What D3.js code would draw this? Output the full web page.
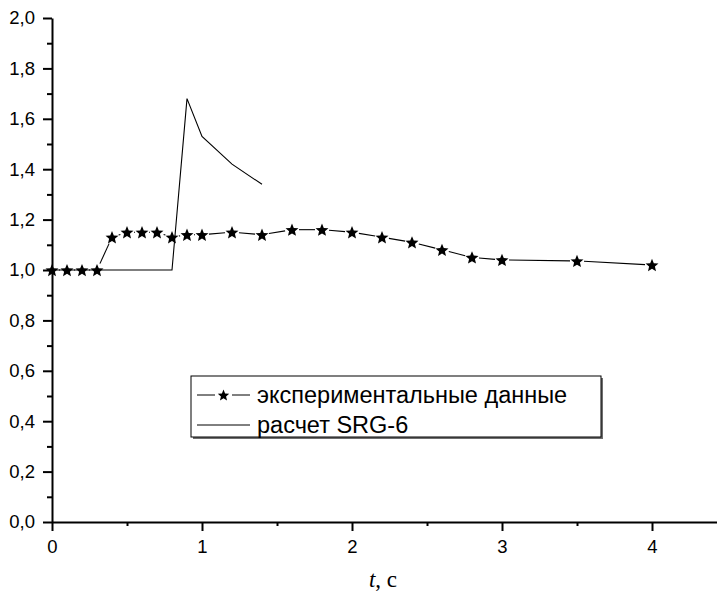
<!DOCTYPE html>
<html>
<head>
<meta charset="utf-8">
<script src="https://cdn.jsdelivr.net/npm/d3@7"></script>
<style>
  html, body { margin: 0; padding: 0; background: #fff; }
  svg { display: block; }
</style>
</head>
<body>
<svg id="chart" width="717" height="592"></svg>
<script>
// ---- data ----
const expT = [0, 0.1, 0.2, 0.3, 0.4, 0.5, 0.6, 0.7, 0.8, 0.9, 1.0, 1.2, 1.4, 1.6, 1.8, 2.0, 2.2, 2.4, 2.6, 2.8, 3.0, 3.5, 4.0];
const expV = [1.0, 1.0, 1.0, 1.0, 1.13, 1.15, 1.15, 1.15, 1.13, 1.14, 1.14, 1.15, 1.14, 1.16, 1.16, 1.15, 1.13, 1.11, 1.08, 1.05, 1.04, 1.036, 1.02];
const calcT = [0, 0.8, 0.9, 1.0, 1.2, 1.4];
const calcV = [1.0, 1.0, 1.68, 1.53, 1.42, 1.34];
const xTicks = [0, 1, 2, 3, 4];
const xMinorTicks = [0.5, 1.5, 2.5, 3.5];
const yTicks = [0, 0.2, 0.4, 0.6, 0.8, 1.0, 1.2, 1.4, 1.6, 1.8, 2.0];
const yMinorTicks = [0.1, 0.3, 0.5, 0.7, 0.9, 1.1, 1.3, 1.5, 1.7, 1.9];
const legendLabels = ["экспериментальные данные", "расчет SRG-6"];
const xLabelItalic = "t";
const xLabelRest = ", с";

// ---- layout ----
const svg = d3.select("#chart");
const x = d3.scaleLinear().domain([0, 4.45]).range([52, 719.5]);
const y = d3.scaleLinear().domain([0, 2]).range([522, 18]);
const fmt = d => d3.format(".1f")(d).replace(".", ",");
const labelFont = "'Liberation Sans', Arial, sans-serif";

// star path generator (Origin-like, slightly fatter than d3's)
function starPath(r, kr) {
  const p = [];
  for (let i = 0; i < 10; i++) {
    const a = -Math.PI / 2 + i * Math.PI / 5;
    const rr = i % 2 ? r * kr : r;
    p.push([rr * Math.cos(a), rr * Math.sin(a) + r * 0.1]);
  }
  return "M" + p.map(q => q[0].toFixed(2) + "," + q[1].toFixed(2)).join("L") + "Z";
}

// ---- axes ----
const gx = svg.append("g").attr("transform", `translate(0,${y(0)})`)
  .call(d3.axisBottom(x).tickValues(xTicks).tickFormat(d3.format("d")).tickSize(9).tickPadding(9).tickSizeOuter(0));
const gxm = svg.append("g").attr("transform", `translate(0,${y(0)})`)
  .call(d3.axisBottom(x).tickValues(xMinorTicks).tickFormat("").tickSize(4).tickSizeOuter(0));
const gy = svg.append("g").attr("transform", `translate(${x(0)},0)`)
  .call(d3.axisLeft(y).tickValues(yTicks).tickFormat(fmt).tickSize(9).tickPadding(8).tickSizeOuter(0));
const gym = svg.append("g").attr("transform", `translate(${x(0)},0)`)
  .call(d3.axisLeft(y).tickValues(yMinorTicks).tickFormat("").tickSize(5).tickSizeOuter(0));

[gx, gxm, gy, gym].forEach(g => {
  g.selectAll(".domain").attr("stroke", "#000").attr("stroke-width", 2);
  g.selectAll(".tick line").attr("stroke", "#000").attr("stroke-width", 2);
  g.selectAll("text").attr("fill", "#000").attr("font-family", labelFont).attr("font-size", 18.5);
});
gxm.select(".domain").remove();
gym.select(".domain").remove();

// x label
const xl = svg.append("text")
  .attr("x", 383).attr("y", 587)
  .attr("text-anchor", "middle")
  .attr("font-family", "'Liberation Serif', 'Times New Roman', serif")
  .attr("font-size", 23).attr("fill", "#000");
xl.append("tspan").attr("font-style", "italic").text(xLabelItalic);
xl.append("tspan").text(xLabelRest);

// ---- calc line ----
svg.append("path")
  .datum(calcT.map((t, i) => [t, calcV[i]]))
  .attr("fill", "none").attr("stroke", "#000").attr("stroke-width", 1.1)
  .attr("d", d3.line().x(d => x(d[0])).y(d => y(d[1])));

// ---- experimental line with gaps around markers ----
const pts = expT.map((t, i) => [x(t), y(expV[i])]);
const gap = 7;
const segs = [];
for (let i = 0; i < pts.length - 1; i++) {
  const [x1, y1] = pts[i], [x2, y2] = pts[i + 1];
  const dx = x2 - x1, dy = y2 - y1, L = Math.hypot(dx, dy);
  if (L > 2 * gap) {
    const ux = dx / L, uy = dy / L;
    segs.push([[x1 + ux * gap, y1 + uy * gap], [x2 - ux * gap, y2 - uy * gap]]);
  }
}
svg.append("g").selectAll("line").data(segs).join("line")
  .attr("x1", d => d[0][0]).attr("y1", d => d[0][1])
  .attr("x2", d => d[1][0]).attr("y2", d => d[1][1])
  .attr("stroke", "#000").attr("stroke-width", 1.1);

const bigStar = starPath(6.8, 0.45);
svg.append("g").selectAll("path").data(pts).join("path")
  .attr("transform", d => `translate(${d[0]},${d[1]})`)
  .attr("d", bigStar).attr("fill", "#000");

// ---- legend ----
const lg = svg.append("g");
const lx0 = 191, ly0 = 376, lw = 410, lh = 61;
lg.append("rect").attr("x", lx0 + 2).attr("y", ly0 + 2).attr("width", lw).attr("height", lh).attr("fill", "#6e6e6e");
lg.append("rect").attr("x", lx0).attr("y", ly0).attr("width", lw).attr("height", lh)
  .attr("fill", "#fff").attr("stroke", "#000").attr("stroke-width", 1);

const rowY = [395, 425];
// row 1: line with star
lg.append("line").attr("x1", 197).attr("x2", 215).attr("y1", rowY[0]).attr("y2", rowY[0]).attr("stroke", "#000");
lg.append("line").attr("x1", 232).attr("x2", 250).attr("y1", rowY[0]).attr("y2", rowY[0]).attr("stroke", "#000");
lg.append("path").attr("transform", `translate(223.5,${rowY[0]})`)
  .attr("d", starPath(6, 0.45)).attr("fill", "#000");
// row 2: plain line
lg.append("line").attr("x1", 197).attr("x2", 250).attr("y1", rowY[1]).attr("y2", rowY[1]).attr("stroke", "#000");

lg.selectAll("text.lbl").data(legendLabels).join("text")
  .attr("class", "lbl")
  .attr("x", 257).attr("y", (d, i) => rowY[i]).attr("dy", "0.35em")
  .attr("font-family", labelFont).attr("font-size", 23.5).attr("fill", "#000")
  .text(d => d);
</script>
</body>
</html>
